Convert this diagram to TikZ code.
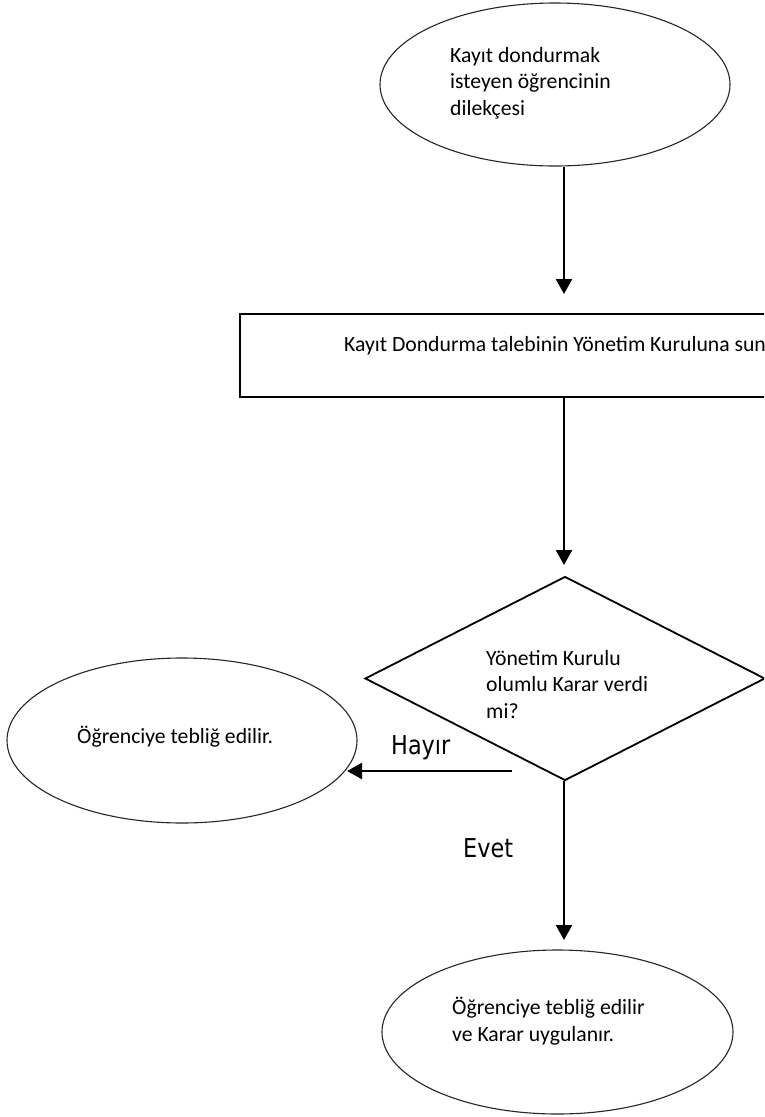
\documentclass[tikz,border=0pt]{standalone}
\usepackage{fontspec}
\setmainfont{Carlito}
\newfontfamily\labelfont[FakeStretch=0.86]{DejaVu Sans}
\usetikzlibrary{shapes.geometric,arrows.meta}
\begin{document}
\begin{tikzpicture}[x=1pt,y=-1pt,
  shapeline/.style={draw=black, line width=1.8pt, inner sep=0pt},
  ell/.style={ellipse, draw=black!85, line width=1.1pt, inner sep=0pt},
  arr/.style={line width=2.4pt, -{Triangle[width=16pt,length=15pt]}},
  txt/.style={anchor=base west, inner sep=0pt, font=\fontsize{21.7}{26.3}\selectfont},
  lbl/.style={anchor=base west, inner sep=0pt, font=\labelfont\fontsize{26}{30}\selectfont}]
\useasboundingbox (0,0) rectangle (764,1117);
\clip (0,0) rectangle (764,1117);
\fill[white] (0,0) rectangle (764,1117);

% top ellipse
\node[ell, minimum width=350pt, minimum height=163pt] (start) at (555,84.5) {};
\node[txt, align=left] (starttext) at (450,115) {Kayıt dondurmak\\isteyen öğrencinin\\dilekçesi};

% rectangle
\node[shapeline, rectangle, minimum width=560pt, minimum height=83pt] (submit) at (520,355.5) {};
\node[txt] (submittext) at (344,351) {Kayıt Dondurma talebinin Yönetim Kuruluna sun};

% diamond
\node[shapeline, diamond, minimum width=400pt, minimum height=204pt] (decide) at (565,678.5) {};
\node[txt, align=left] (decidetext) at (486,718) {Yönetim Kurulu\\olumlu Karar verdi\\mi?};

% left ellipse
\node[ell, minimum width=350pt, minimum height=165pt] (no) at (182,740.5) {};
\node[txt] (notext) at (77,743) {Öğrenciye tebliğ edilir.};

% bottom ellipse
\node[ell, minimum width=351pt, minimum height=164pt] (yes) at (557.5,1032) {};
\node[txt, align=left] (yestext) at (452,1041) {Öğrenciye tebliğ edilir\\ve Karar uygulanır.};

% labels
\node[lbl] (hayir) at (391,754) {Hayır};
\node[lbl] (evet) at (463,857) {Evet};

% connectors
\coordinate (a1end) at (564,294);
\draw[arr] (start.south -| a1end) -- (a1end);
\coordinate (a2end) at (564,565);
\draw[arr] (submit.south -| a2end) -- (a2end);
\coordinate (a3end) at (564,940);
\draw[arr] (decide.south -| a3end) -- (a3end);
\coordinate (a4start) at (512,771);
\coordinate (a4end) at (347,771);
\draw[arr] (a4start) -- (a4end);
\end{tikzpicture}
\end{document}
